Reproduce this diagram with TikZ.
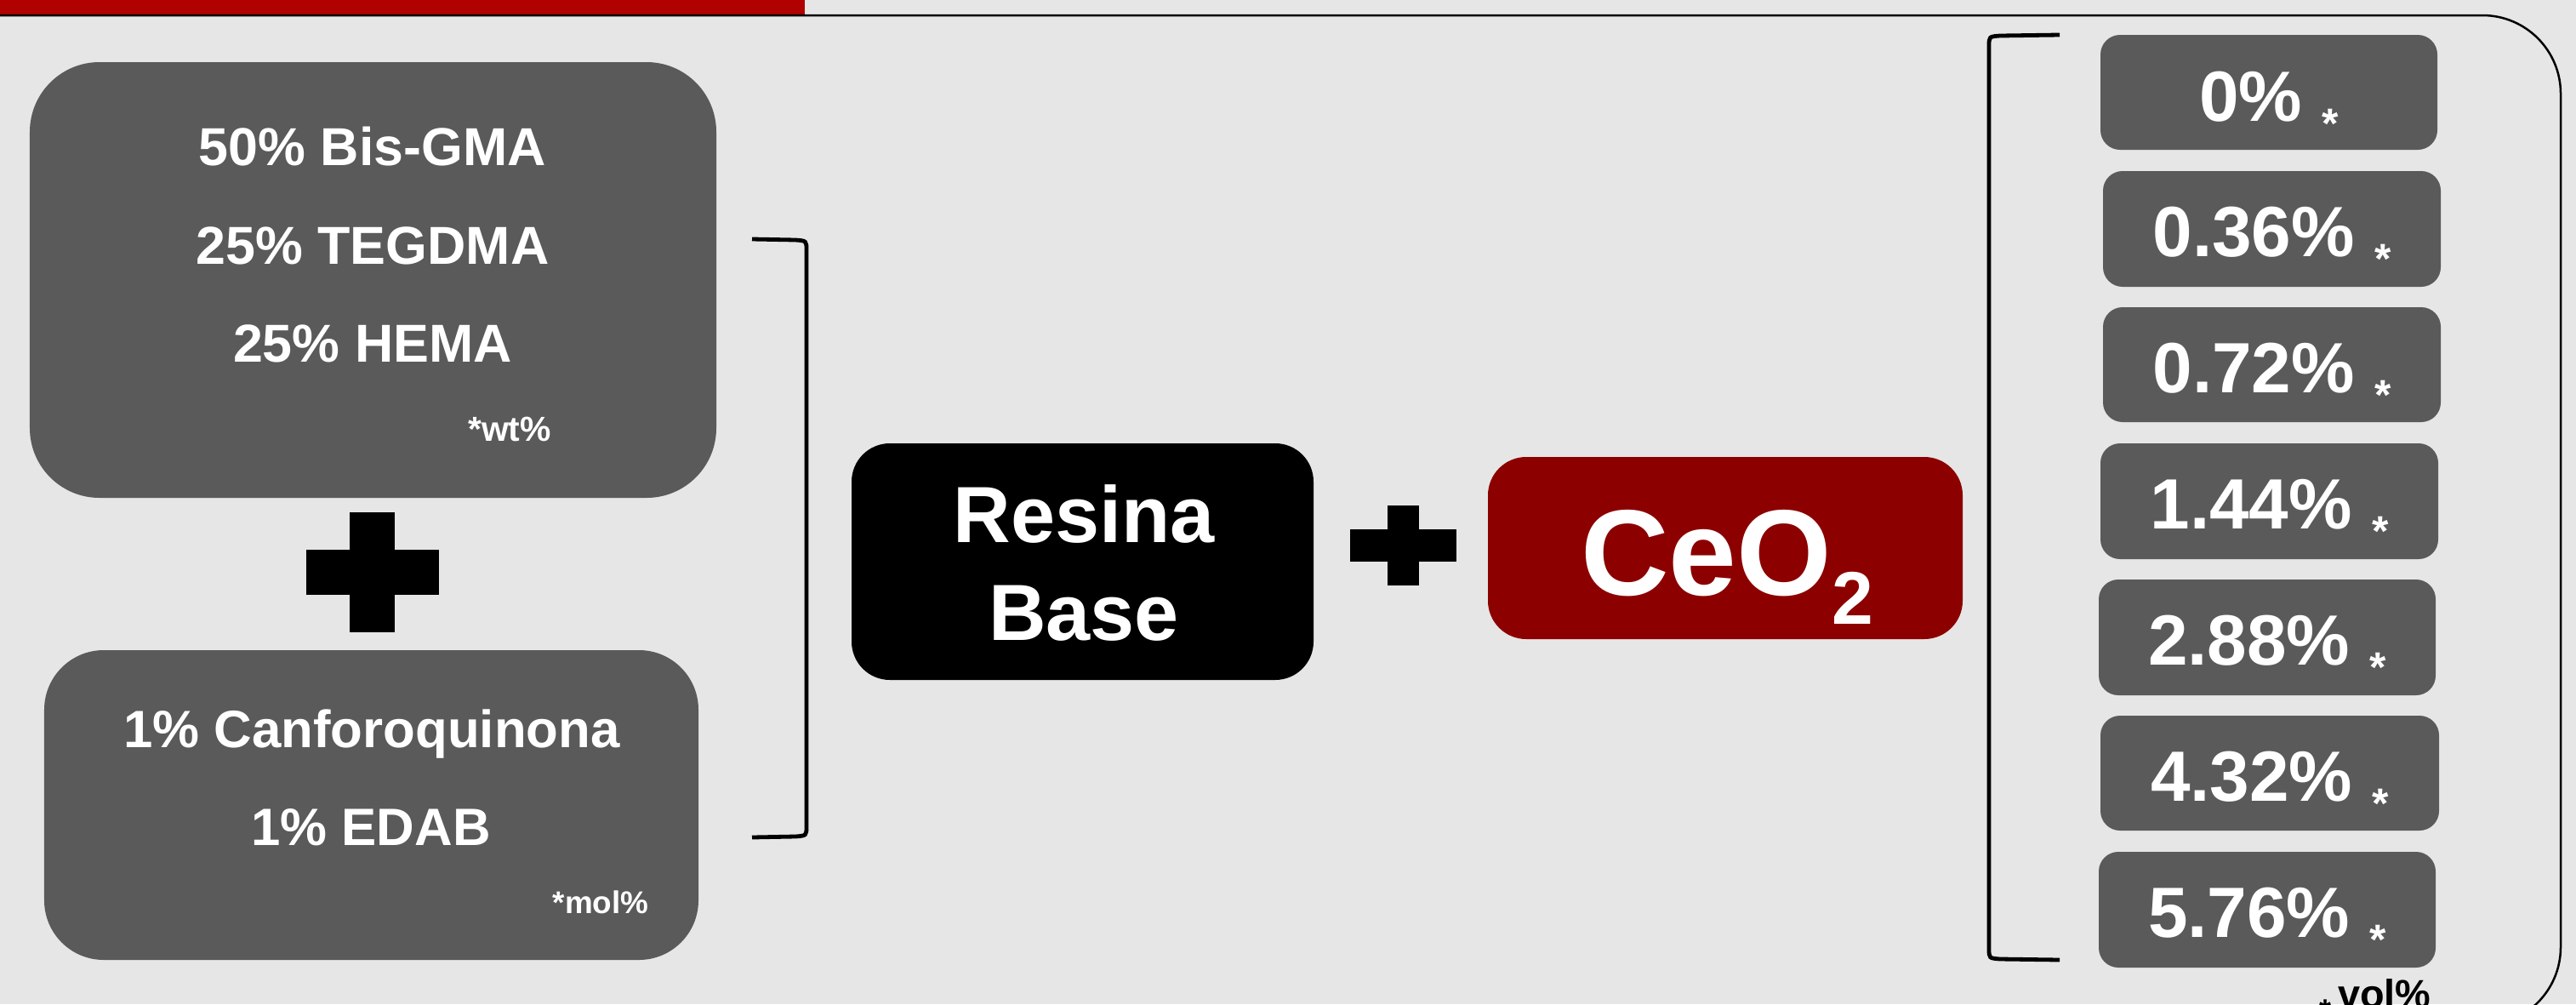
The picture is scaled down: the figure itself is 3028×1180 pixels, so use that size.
\documentclass[tikz,border=0pt]{standalone}
\usepackage{fontspec}
\setmainfont{Liberation Sans}
\definecolor{bgc}{RGB}{230,230,230}
\definecolor{boxgray}{RGB}{90,90,90}
\definecolor{barred}{RGB}{176,0,0}
\definecolor{ceored}{RGB}{140,0,0}
\tikzset{
  gbox/.style={fill=boxgray, inner sep=0pt, draw=none},
  pbox/.style={gbox, rounded corners=23bp},
  wtxt/.style={text=white, inner sep=0pt, anchor=base, font=\bfseries},
  brk/.style={line width=4.8bp, line cap=butt},
  pct/.style={wtxt, font=\fontsize{84}{90}\selectfont\bfseries},
}
\newcommand{\smallmark}[3]{{\fontsize{#1}{#1}\selectfont\raisebox{#2}{#3}}}
\begin{document}
\begin{tikzpicture}[x=1bp,y=-1bp]
\useasboundingbox (0,0) rectangle (3028,1180);
\fill[bgc] (0,0) rectangle (3028,1180);
\fill[barred] (0,0) rectangle (946,17);
\begin{scope}
\clip (0,0) rectangle (3028,1180);
\draw[line width=2.5bp, rounded corners=92bp] (0,18) -- (3010,18) -- (3010,1205) -- (2700,1205);
\end{scope}

% left boxes
\node[gbox, rounded corners=82bp, minimum width=807bp, minimum height=512bp] (boxA) at (438.5,329) {};
\node[wtxt, font=\fontsize{63}{70}\selectfont\bfseries] (a1) at (438,194) {50\% Bis-GMA};
\node[wtxt, font=\fontsize{63}{70}\selectfont\bfseries] (a2) at (438,310) {25\% TEGDMA};
\node[wtxt, font=\fontsize{63}{70}\selectfont\bfseries] (a3) at (438,425) {25\% HEMA};
\node[wtxt, font=\fontsize{41}{45}\selectfont\bfseries] (a4) at (599,518) {*wt\%};

\node[gbox, rounded corners=70bp, minimum width=769bp, minimum height=364bp] (boxB) at (436.5,946) {};
\node[wtxt, font=\fontsize{62}{70}\selectfont\bfseries] (b1) at (437,878) {1\% Canforoquinona};
\node[wtxt, font=\fontsize{62}{70}\selectfont\bfseries] (b2) at (436,993) {1\% EDAB};
\node[wtxt, font=\fontsize{37}{40}\selectfont\bfseries] (b3) at (706,1073) {*mol\%};

% left plus
\fill (360,646) rectangle (516,699);
\fill (411,602) rectangle (464,743);

% left bracket
\draw[brk] (884,281) -- (935,282) .. controls (948,283) .. (948,294) -- (948,971) .. controls (948,982) .. (935,983) -- (884,984);

% resina base
\node[fill=black, rounded corners=45bp, inner sep=0pt, minimum width=543bp, minimum height=278bp] (resina) at (1272.5,660) {};
\node[wtxt, font=\fontsize{94}{100}\selectfont\bfseries] (r1) at (1274,637) {Resina};
\node[wtxt, font=\fontsize{94}{100}\selectfont\bfseries] (r2) at (1274,752) {Base};

% middle plus
\fill (1587,622) rectangle (1712,660);
\fill (1631,594) rectangle (1668,688);

% CeO2
\node[fill=ceored, rounded corners=45bp, inner sep=0pt, minimum width=558bp, minimum height=214bp] (ceo) at (2028,644) {};
\node[wtxt, font=\fontsize{144}{150}\selectfont\bfseries] (ceot) at (2030,699) {CeO\smallmark{88}{-34bp}{2}};

% right bracket
\draw[brk] (2421,41) -- (2351,42) .. controls (2338,43) .. (2338,54) -- (2338,1115) .. controls (2338,1126) .. (2351,1127) -- (2421,1128);

% percent boxes
\node[pbox, minimum width=396bp, minimum height=135bp] (p1) at (2667,108.5) {};
\node[pct] (t1) at (p1.center |- 0,142) {0\%\ \smallmark{50}{-20bp}{*}};
\node[pbox, minimum width=397bp, minimum height=136bp] (p2) at (2670.5,269) {};
\node[pct] (t2) at (p2.center |- 0,301) {0.36\%\ \smallmark{50}{-20bp}{*}};
\node[pbox, minimum width=397bp, minimum height=135bp] (p3) at (2670.5,428.5) {};
\node[pct] (t3) at (p3.center |- 0,461) {0.72\%\ \smallmark{50}{-20bp}{*}};
\node[pbox, minimum width=397bp, minimum height=136bp] (p4) at (2667.5,589) {};
\node[pct] (t4) at (p4.center |- 0,621) {1.44\%\ \smallmark{50}{-20bp}{*}};
\node[pbox, minimum width=396bp, minimum height=136bp] (p5) at (2665,749) {};
\node[pct] (t5) at (p5.center |- 0,781) {2.88\%\ \smallmark{50}{-20bp}{*}};
\node[pbox, minimum width=398bp, minimum height=135bp] (p6) at (2668,908.5) {};
\node[pct] (t6) at (p6.center |- 0,941) {4.32\%\ \smallmark{50}{-20bp}{*}};
\node[pbox, minimum width=396bp, minimum height=136bp] (p7) at (2665,1069) {};
\node[pct] (t7) at (p7.center |- 0,1101) {5.76\%\ \smallmark{50}{-20bp}{*}};

\node[inner sep=0pt, anchor=base, font=\fontsize{47}{50}\selectfont\bfseries] (vol) at (2792,1184) {\smallmark{36}{-15bp}{*}\,vol\%};
\end{tikzpicture}
\end{document}
